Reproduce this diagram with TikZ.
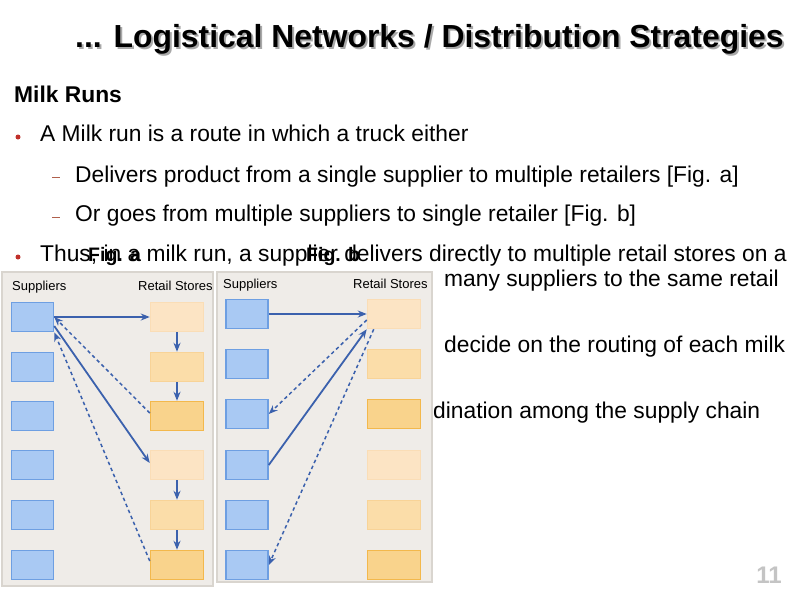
\documentclass[tikz,border=0pt]{standalone}
\usepackage{fontspec}
\setmainfont{Liberation Sans}
\usetikzlibrary{arrows.meta, positioning}

\definecolor{bulletred}{HTML}{C0302A}
\definecolor{dashbrown}{HTML}{B0604C}
\definecolor{shadowgray}{HTML}{A8A8A8}
\definecolor{pagegray}{HTML}{C4C4C4}
\definecolor{panelfill}{HTML}{EFECE8}
\definecolor{panelline}{HTML}{D9D5CF}
\definecolor{supfill}{HTML}{A9C9F3}
\definecolor{supline}{HTML}{6E9FE2}
\definecolor{palefill}{HTML}{FCE4C4}
\definecolor{paleline}{HTML}{FADDB6}
\definecolor{midfill}{HTML}{FBDDA9}
\definecolor{midline}{HTML}{F8D397}
\definecolor{fullfill}{HTML}{F9D38C}
\definecolor{fullline}{HTML}{F3B84C}
\definecolor{arrowblue}{HTML}{3B61AD}

\begin{document}
\begin{tikzpicture}[x=1pt, y=-1pt, >={Stealth[length=9pt,width=7pt]},
  title/.style={anchor=base west, inner sep=0pt, font=\bfseries\fontsize{31.9}{37}\selectfont},
  txt/.style={anchor=base west, inner sep=0pt, font=\fontsize{22.8}{27}\selectfont},
  head/.style={anchor=base west, inner sep=0pt, font=\fontsize{13}{15}\selectfont},
  figlbl/.style={anchor=base west, inner sep=0pt, font=\bfseries\fontsize{19.5}{23}\selectfont},
  dot/.style={circle, fill=bulletred, inner sep=0pt, minimum size=5pt},
  panel/.style={draw=panelline, fill=panelfill, line width=1.5pt, inner sep=0pt},
  box/.style={draw, line width=1.5pt, inner sep=0pt, minimum height=29pt},
  supplier/.style={box, draw=supline, fill=supfill, minimum width=42pt},
  storepale/.style={box, draw=paleline, fill=palefill, minimum width=53pt},
  storemid/.style={box, draw=midline, fill=midfill, minimum width=53pt},
  storefull/.style={box, draw=fullline, fill=fullfill, minimum width=53pt},
  flow/.style={draw=arrowblue, line width=1.8pt},
  back/.style={flow, line width=1.5pt, dash pattern=on 3.5pt off 3pt}]
\useasboundingbox (0,0) rectangle (794,595);
\fill[white] (0,0) rectangle (794,595);

% Title and text
\node[title, text=shadowgray] (titleshadow) at (77,49) {... Logistical Networks / Distribution Strategies};
\node[title] (title) at (75,47) {... Logistical Networks / Distribution Strategies};
\node[txt, font=\bfseries\fontsize{22.8}{27}\selectfont] (milkruns) at (14,102) {Milk Runs};
\node[dot] (dot1) at (18,137) {};
\node[txt] (line1) at (40,141) {A Milk run is a route in which a truck either};
\draw[dashbrown, line width=0.8pt] (52,177) -- (60,177);
\node[txt] (sub1) at (75,182) {Delivers product from a single supplier to multiple retailers [Fig. a]};
\draw[dashbrown, line width=0.8pt] (52,217) -- (60,217);
\node[txt] (sub2) at (75,221) {Or goes from multiple suppliers to single retailer [Fig. b]};
\node[dot] (dot2) at (18,257) {};
\node[txt] (line2) at (40,261) {Thus, in a milk run, a supplier delivers directly to multiple retail stores on a};
\node[txt] (line3) at (444,286) {many suppliers to the same retail};
\node[txt] (line4) at (444,352) {decide on the routing of each milk};
\node[txt] (line5) at (433,418) {dination among the supply chain};
\node[anchor=base east, inner sep=0pt, font=\bfseries\fontsize{24}{28}\selectfont, text=pagegray] (pnum) at (782,583) {11};

% Panels
\node[panel, minimum width=211pt, minimum height=314pt] (panela) at (107.5,429) {};
\node[panel, minimum width=215pt, minimum height=310pt] (panelb) at (324.5,427) {};
\node[head] (supa) at (12,290) {Suppliers};
\node[head] (reta) at (138,290) {Retail Stores};
\node[head] (supb) at (223,288) {Suppliers};
\node[head] (retb) at (353,288) {Retail Stores};

% Boxes
\foreach \i/\y/\s in {1/317/storepale, 2/367/storemid, 3/416/storefull, 4/465/storepale, 5/515/storemid, 6/565/storefull} {
  \node[supplier] (sa\i) at (32.5,\y) {};
  \node[\s] (ra\i) at (177,\y) {};
}
\foreach \i/\y/\s in {1/314/storepale, 2/364/storemid, 3/414/storefull, 4/465/storepale, 5/515/storemid, 6/565/storefull} {
  \node[supplier] (sb\i) at (247,\y) {};
  \node[\s] (rb\i) at (394,\y) {};
}

% Edges, Fig. a
\draw[flow,->] (sa1.east) -- (ra1.west);
\draw[flow,->] (ra1) -- (ra2);
\draw[flow,->] (ra2) -- (ra3);
\draw[back,->] ([yshift=3pt]ra3.west) -- (sa1.east);
\draw[flow,->] ([yshift=-9pt]sa1.east) -- ([yshift=2pt]ra4.west);
\draw[flow,->] (ra4) -- (ra5);
\draw[flow,->] (ra5) -- (ra6);
\draw[back,->] ([yshift=4pt]ra6.west) -- (sa1.south east);

% Edges, Fig. b
\draw[flow,->] (sb1.east) -- (rb1.west);
\draw[back,->] ([yshift=-6pt]rb1.west) -- (sb3.east);
\draw[flow,->] (sb4.east) -- (rb1.south west);
\draw[back,->] ([xshift=7pt]rb1.south west) -- (sb6.east);

% Figure labels
\node[figlbl] (figa) at (88,261) {Fig. a};
\node[figlbl] (figb) at (306,261) {Fig. b};
\end{tikzpicture}
\end{document}
